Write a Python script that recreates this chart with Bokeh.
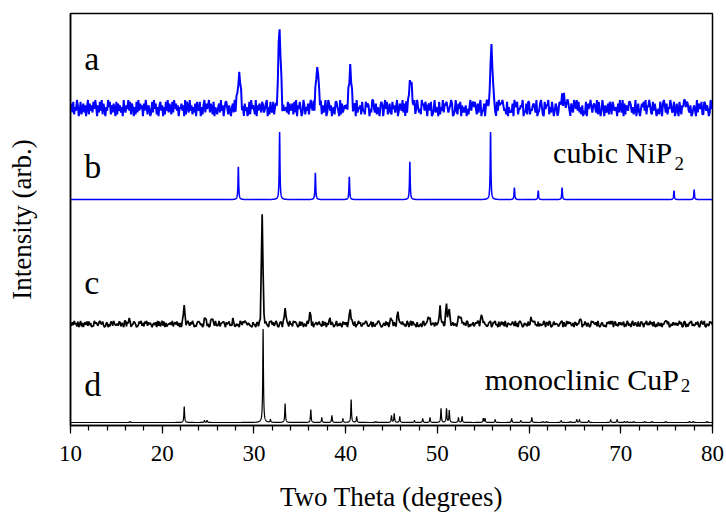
import numpy as np
from bokeh.plotting import figure
from bokeh.models import Range1d, SingleIntervalTicker, FixedTicker
from bokeh.core.properties import value
from bokeh.embed import file_html
from bokeh.resources import INLINE

# ---------------- data ----------------
x_start, x_end = 10, 80
x_ticks_interval = 10

sample_letters = ["a", "b", "c", "d"]
phase_names = ["cubic NiP", "monoclinic CuP"]
phase_subscripts = ["2", "2"]

# vertical offsets of the four stacked patterns (arb.)
offset_a, offset_b, offset_c, offset_d = 319, 227, 102, 3

# a: measured NiP2 sample (noisy)
a_pos = [28.4, 32.8, 36.9, 40.5, 47.1, 55.9, 63.8]
a_height = [32, 80, 42, 36, 28, 58, 9]
a_fwhm = [0.35, 0.30, 0.35, 0.35, 0.40, 0.35, 0.6]
a_noise = (
    "4728153960" "3814726059" "1736284950" "6283917405" "3958162740" "8173625094" "2649381750"
    "5182937460" "7395164028" "2947150683" "6051839274" "1829473605" "4736091852" "9361527084"
    "3805169274" "6927418053" "1572936048" "8416305729" "2963748150" "7350281946" "4190637528"
    "6247905183" "2815736940" "9063452817" "3571829064" "8402961537" "1695380724" "5738162490"
    "2973604518" "8530917246" "4618293705" "7092546183" "3185760429" "9427153068" "6059481372"
    "1846259037" "5392708164" "7260381495" "2419673850" "6738014925" "4081539276" "8524697013"
    "9317480625" "2604159378" "5841726903" "3706952148" "1452083967" "7963418052" "3270965814"
    "4659032718" "8143675290" "2379510846" "6915284037" "5027649183" "1586307429" "7493825160"
    "3180746952" "6752918304" "9406237185" "1863450729" "4290716538" "8625139047" "2047583916"
    "5962183740" "3418507962" "7154962380" "2730841659" "9587326014" "6309275481" "1873640295"
    "4"
)

# b: reference cubic NiP2
b_pos = [28.3, 32.8, 36.7, 40.4, 47.0, 55.8, 58.4, 61.0, 63.6, 75.8, 78.0]
b_height = [33, 68, 27, 23, 38, 68, 12, 9, 12, 9, 10]

# c: measured CuP2 sample (noisy)
c_pos = [16.4, 22.4, 24.7, 25.4, 27.7, 30.9, 31.8, 33.4, 36.1, 38.3, 40.5, 45.0, 45.7,
         49.1, 50.3, 51.0, 51.3, 52.3, 52.6, 54.8, 60.2, 65.5]
c_height = [5, 20, 6, 5, 3, 110, 3, 17, 11, 3, 15, 6, 10,
            8, 17, 18, 14, 7, 6, 11, 6, 5]
c_noise = (
    "5273946180" "4916057382" "8360219574" "2795483016" "6041872953" "3528716409" "9172650348"
    "7401385926" "1859274630" "4637092815" "9280613547" "3915748260" "6084321795" "2749503168"
    "8635029471" "5017486293" "2391567840" "7468230951" "1524097386" "9853642107" "4306718295"
    "1958420637" "3724961058" "6082347519" "4519786302" "8276053194" "2691804573" "5843192760"
    "6389175024" "9152630847" "3706841952" "8034957126" "4697213580" "7215489630" "1462837059"
    "2517309846" "7483512960" "5928634071" "1350792468" "9082465173" "4637058219" "8096314725"
    "4026895173" "6298041537" "1475980326" "5843126790" "2769340815" "8371920654" "3584291607"
    "9740263518" "2065879341" "8152439607" "6297014835" "5413689072" "1948573260" "7625138904"
    "3851640297" "8547193026" "6213075849" "4906825173" "7348051962" "5069247318" "2187406593"
    "6394718205" "1732605489" "9480152736" "3625947018" "8051376924" "2374810695" "4910532867"
    "3"
)

# d: reference monoclinic CuP2
d_pos = [16.5, 22.4, 24.6, 24.9, 31.0, 31.8, 33.4, 36.2, 37.4, 38.5, 39.7, 40.6, 41.2,
         43.3, 45.0, 45.3, 45.9, 47.5, 48.4, 49.2, 50.4, 51.0, 51.3, 52.3, 52.7, 55.0,
         55.2, 56.3, 58.1, 59.1, 60.3, 61.5, 61.9, 63.5, 64.5, 65.2, 65.5, 66.5, 68.9,
         69.6, 70.4, 70.7, 71.4, 72.6, 73.4, 74.9, 77.5, 77.9, 79.4]
d_height = [1, 16, 2, 2, 94, 3, 19, 13, 5, 7, 4, 23, 6,
            1, 7, 9, 6, 2, 4, 5, 14, 14, 12, 5, 6, 4,
            4, 3, 4, 2, 5, 1, 1, 2, 1, 3, 3, 2, 3,
            3, 1, 1, 1, 1, 1, 1, 1, 1, 1]


# ---------------- build profiles from peak lists ----------------
def gauss_sum(x, pos, hgt, fwhm):
    y = np.zeros_like(x)
    for c, h, w in zip(pos, hgt, fwhm):
        s = w / 2.3548
        y += h * np.exp(-0.5 * ((x - c) / s) ** 2)
    return y


def lorentz_sum(x, pos, hgt, fwhm):
    y = np.zeros_like(x)
    for c, h in zip(pos, hgt):
        y += h / (1.0 + ((x - c) / (fwhm / 2.0)) ** 2)
    return y


xa = np.linspace(x_start, x_end, len(a_noise))
ya = offset_a + (np.array([int(ch) for ch in a_noise]) - 4.5) * 1.8 + gauss_sum(xa, a_pos, a_height, a_fwhm)

xc = np.linspace(x_start, x_end, len(c_noise))
yc = offset_c + (np.array([int(ch) for ch in c_noise]) - 4.5) * 0.7 + gauss_sum(xc, c_pos, c_height, [0.2] * len(c_pos))

xf = np.linspace(x_start, x_end, 7001)
yb = offset_b + lorentz_sum(xf, b_pos, b_height, 0.09)
yd = offset_d + lorentz_sum(xf, d_pos, d_height, 0.09)

# ---------------- figure ----------------
FONT = "Liberation Serif"
p = figure(width=726, height=514, x_range=Range1d(x_start, x_end), y_range=Range1d(0, 414),
           output_backend="svg", toolbar_location=None,
           min_border_left=70, min_border_right=14, min_border_top=13, min_border_bottom=87)
p.xgrid.visible = False
p.ygrid.visible = False
p.outline_line_color = "black"
p.outline_line_width = 1.5
p.background_fill_color = "white"
p.border_fill_color = "white"

xa_ax = p.xaxis[0]
xa_ax.ticker = SingleIntervalTicker(interval=x_ticks_interval, num_minor_ticks=5)
xa_ax.major_tick_in = 0
xa_ax.major_tick_out = 8
xa_ax.minor_tick_in = 0
xa_ax.minor_tick_out = 5
xa_ax.axis_line_width = 1.5
xa_ax.major_tick_line_width = 1.2
xa_ax.minor_tick_line_width = 1.2
xa_ax.major_label_text_font = FONT
xa_ax.major_label_text_font_size = "23px"
xa_ax.major_label_text_color = "black"
xa_ax.major_label_standoff = 12
xa_ax.axis_label = "Two Theta (degrees)"
xa_ax.axis_label_text_font = FONT
xa_ax.axis_label_text_font_size = "27px"
xa_ax.axis_label_text_font_style = "normal"
xa_ax.axis_label_text_color = "black"
xa_ax.axis_label_standoff = 18

ya_ax = p.yaxis[0]
ya_ax.ticker = FixedTicker(ticks=[])
ya_ax.major_tick_out = 0
ya_ax.major_tick_in = 0
ya_ax.minor_tick_out = 0
ya_ax.minor_tick_in = 0
ya_ax.axis_line_width = 1.5
ya_ax.axis_label = "Intensity (arb.)"
ya_ax.axis_label_text_font = FONT
ya_ax.axis_label_text_font_size = "27px"
ya_ax.axis_label_text_font_style = "normal"
ya_ax.axis_label_text_color = "black"
ya_ax.axis_label_standoff = 34

p.line(xa, ya, line_color="#0000ff", line_width=2.0)
p.line(xf, yb, line_color="#0000ff", line_width=1.5)
p.line(xc, yc, line_color="black", line_width=1.7)
p.line(xf, yd, line_color="black", line_width=1.2)

p.text(x=[11.5] * 4, y=[369, 260, 144, 41], text=sample_letters,
       text_font=value(FONT), text_font_size="34px", text_color="black",
       text_align="left", text_baseline="alphabetic")
p.text(x=[75.61, 76.33], y=[274, 46], text=phase_names,
       text_font=value(FONT), text_font_size="30px", text_color="black",
       text_align="right", text_baseline="alphabetic")
p.text(x=[75.85, 76.55], y=[263, 40], text=phase_subscripts,
       text_font=value(FONT), text_font_size="19px", text_color="black",
       text_align="left", text_baseline="alphabetic")

open("out.html", "w").write(file_html(p, INLINE))
